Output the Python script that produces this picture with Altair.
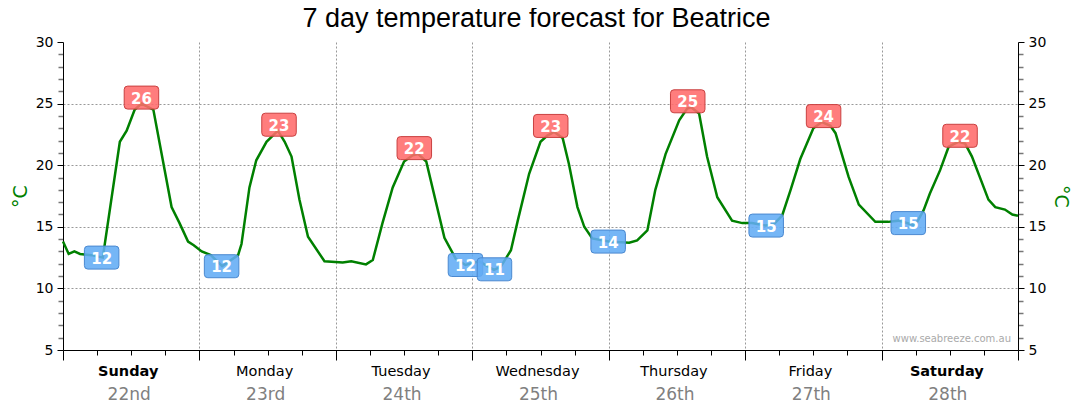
import altair as alt
import pandas as pd

# ---- data ----
hours = [0, 1, 2, 3, 5, 7, 10, 11.2, 12.6, 13.8, 15.9, 19.1, 20.5, 22, 23, 24.4, 26, 28,
         30.8, 31.4, 32.8, 34, 35.8, 37.8, 39, 40.2, 41.6, 43.1, 46, 49.2, 50.7, 53.3, 54.5,
         56.2, 58, 60, 61.5, 62.5, 63.9, 67.1, 69.1, 70.8, 73.2, 75.8, 77, 78.8, 80, 82, 84,
         85.2, 86.4, 87.9, 89, 90.5, 91.7, 93.1, 96, 99.6, 101, 102.8, 104.2, 106, 108.4,
         109.8, 110.5, 111.9, 113.3, 115.1, 117.7, 119.5, 121.2, 123.6, 125, 126.5, 128,
         129.7, 132, 133.5, 135, 135.9, 138.2, 140, 142.9, 145.2, 147, 149.9, 151.4, 152.5,
         154.3, 155.8, 157.5, 158.7, 159.9, 162.8, 164, 165.7, 167, 168]
temps = [13.8, 12.8, 13.0, 12.8, 12.7, 12.5, 21.9, 22.8, 24.5, 25.0, 24.5, 16.6, 15.3, 13.8,
         13.5, 13.0, 12.7, 11.8, 12.7, 13.6, 18.2, 20.4, 21.9, 22.8, 21.9, 20.7, 17.2, 14.2,
         12.2, 12.1, 12.2, 11.95, 12.3, 15.3, 18.2, 20.3, 20.8, 20.9, 20.3, 14.1, 12.4, 11.9,
         12.2, 11.5, 11.75, 13.1, 15.5, 19.3, 21.9, 22.4, 22.7, 22.2, 20.1, 16.6, 15.0, 14.06,
         13.8, 13.7, 13.9, 14.7, 18.0, 20.9, 23.65, 24.6, 24.7, 24.2, 20.7, 17.4, 15.5, 15.3,
         15.3, 15.1, 15.2, 15.9, 18.0, 20.5, 23.0, 23.5, 23.2, 22.6, 19.05, 16.8, 15.4, 15.4,
         15.5, 15.1, 16.35, 17.7, 19.6, 21.5, 21.9, 21.75, 20.7, 17.2, 16.6, 16.4, 16.0, 15.9]

max_hours = [13.8, 38.0, 61.8, 85.8, 109.9, 133.8, 157.8]
max_anchor = [25.0, 22.8, 20.9, 22.7, 24.7, 23.5, 21.9]
max_values = [26, 23, 22, 23, 25, 24, 22]

min_hours = [6.8, 27.9, 70.8, 75.9, 95.9, 123.7, 148.7]
min_anchor = [12.5, 11.8, 11.9, 11.55, 13.8, 15.1, 15.3]
min_values = [12, 12, 12, 11, 14, 15, 15]

day_names = ["Sunday", "Monday", "Tuesday", "Wednesday", "Thursday", "Friday", "Saturday"]
day_dates = ["22nd", "23rd", "24th", "25th", "26th", "27th", "28th"]
weekend = [True, False, False, False, False, False, True]

title_text = "7 day temperature forecast for Beatrice"
watermark = "www.seabreeze.com.au"

# ---- tables ----
line_df = pd.DataFrame({"hour": hours, "temp": temps})
max_df = pd.DataFrame({"hour": max_hours, "temp": max_anchor, "value": max_values})
min_df = pd.DataFrame({"hour": min_hours, "temp": min_anchor, "value": min_values})
days_df = pd.DataFrame({"hour": [12 + 24 * i for i in range(7)], "name": day_names,
                        "date": day_dates, "weekend": weekend})

W, H = 955, 308
GREEN = "#008000"
BOX = ("M-1.2,-1 L1.2,-1 Q1.5,-1 1.5,-0.7 L1.5,0.7 Q1.5,1 1.2,1 L-1.2,1 "
       "Q-1.5,1 -1.5,0.7 L-1.5,-0.7 Q-1.5,-1 -1.2,-1 Z")

x_axis = alt.Axis(
    values=list(range(0, 169, 6)), labels=False, title=None,
    domainColor="black", domainWidth=1,
    tickColor="black",
    tickSize={"condition": {"test": "datum.value % 24 === 0", "value": 10}, "value": 5},
    grid=True, gridColor="#999", gridDash=[2, 2],
    gridOpacity={"condition": {"test": "datum.value % 24 === 0 && datum.value > 0 && datum.value < 168",
                               "value": 1}, "value": 0},
)
X = alt.X("hour:Q", scale=alt.Scale(domain=[0, 168], nice=False, zero=False), axis=x_axis)


def y_axis(orient):
    return alt.Axis(
        orient=orient, values=list(range(5, 31)), title="°C",
        titleColor=GREEN, titleFontSize=19, titleFont="DejaVu Sans", titleFontWeight="normal",
        titlePadding=5,
        labelExpr="datum.value % 5 === 0 ? datum.label : ''",
        labelFont="DejaVu Sans", labelFontSize=14, labelColor="black", labelOverlap=False,
        labelFlush=False, labelPadding=4,
        domainColor="black",
        tickColor={"condition": {"test": "datum.value % 5 === 0", "value": "black"}, "value": "#777"},
        tickSize={"condition": {"test": "datum.value % 5 === 0", "value": 6}, "value": 5},
        tickWidth={"condition": {"test": "datum.value % 5 === 0", "value": 1}, "value": 1.5},
        grid=(orient == "left"), gridColor="#999", gridDash=[2, 2],
        gridOpacity={"condition": {"test": "datum.value % 5 === 0 && datum.value > 5 && datum.value < 30",
                                   "value": 1}, "value": 0},
    )


ysc = alt.Scale(domain=[5, 30], nice=False, zero=False)

line = alt.Chart(line_df).mark_line(color=GREEN, strokeWidth=2.5).encode(
    x=X, y=alt.Y("temp:Q", scale=ysc, axis=y_axis("left")))
right = alt.Chart(line_df).mark_line(opacity=0).encode(
    x=X, y=alt.Y("temp:Q", scale=ysc, axis=y_axis("right")))

max_box = alt.Chart(max_df).mark_point(
    shape=BOX, size=529, filled=True, fill="#ff6b6b", fillOpacity=0.88,
    stroke="#c94040", strokeWidth=1, yOffset=-6).encode(
    x=X, y=alt.Y("temp:Q", scale=ysc, axis=None))
max_txt = alt.Chart(max_df).mark_text(
    color="white", font="DejaVu Sans", fontWeight="bold", fontSize=15,
    baseline="middle", yOffset=-5).encode(
    x=X, y=alt.Y("temp:Q", scale=ysc, axis=None), text="value:N")
min_box = alt.Chart(min_df).mark_point(
    shape=BOX, size=529, filled=True, fill="#62acf5", fillOpacity=0.88,
    stroke="#4a88d0", strokeWidth=1).encode(
    x=X, y=alt.Y("temp:Q", scale=ysc, axis=None))
min_txt = alt.Chart(min_df).mark_text(
    color="white", font="DejaVu Sans", fontWeight="bold", fontSize=15,
    baseline="middle", yOffset=1).encode(
    x=X, y=alt.Y("temp:Q", scale=ysc, axis=None), text="value:N")

name_norm = alt.Chart(days_df).transform_filter("!datum.weekend").mark_text(
    font="DejaVu Sans", fontSize=14.5, color="black", baseline="alphabetic", dx=-3).encode(
    x=X, y=alt.value(H + 26), text="name:N")
name_bold = alt.Chart(days_df).transform_filter("datum.weekend").mark_text(
    font="DejaVu Sans", fontSize=14.5, fontWeight="bold", color="black",
    baseline="alphabetic", dx=-3).encode(
    x=X, y=alt.value(H + 26), text="name:N")
dates = alt.Chart(days_df).mark_text(
    font="DejaVu Sans", fontSize=17, color="#808080", baseline="alphabetic", dx=-2).encode(
    x=X, y=alt.value(H + 50), text="date:N")

wm = alt.Chart(pd.DataFrame({"t": [watermark]})).mark_text(
    font="DejaVu Sans", fontSize=10, color="#aaaaaa", align="right", baseline="alphabetic").encode(
    x=alt.value(W - 7), y=alt.value(H - 8), text="t:N")

title = alt.Chart(pd.DataFrame({"t": [title_text]})).mark_text(
    font="Liberation Sans", fontSize=27, color="black", align="center", baseline="alphabetic").encode(
    x=alt.value(W / 2 - 4), y=alt.value(-15), text="t:N")

chart = alt.layer(
    line, right, min_box, min_txt, max_box, max_txt, name_norm, name_bold, dates, wm, title
).resolve_scale(y="independent").properties(
    width=W, height=H,
    background="white",
    autosize=alt.AutoSizeParams(type="none"),
    padding={"left": 55, "top": 34, "right": 54, "bottom": 56},
).configure_view(stroke=None)

chart.save("out.html", embed_options={"renderer": "svg", "actions": False})
